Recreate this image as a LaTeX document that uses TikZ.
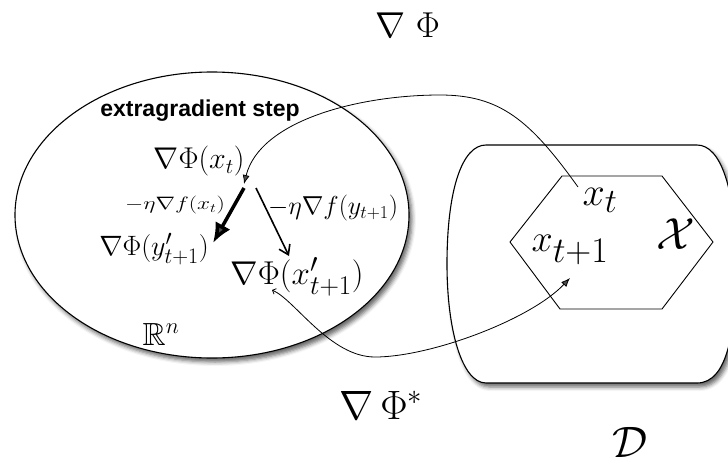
\RequirePackage{fix-cm}
\documentclass[tikz,border=0pt]{standalone}
\usepackage{amsmath,amssymb}
\usepackage{fontspec}
\newfontfamily\headfont{Liberation Sans}
\usetikzlibrary{arrows.meta,shadows.blur}
\newcommand\myfs[1]{\fontsize{#1}{#1}\selectfont}
\DeclareMathSizes{30}{30}{21}{15}
\DeclareMathSizes{33}{33}{27}{20}
\DeclareMathSizes{28}{28}{22}{16}
\DeclareMathSizes{40}{40}{34}{26}
\DeclareMathSizes{38}{38}{36}{28}
\begin{document}
\begin{tikzpicture}[x=1pt,y=-1pt,
  region/.style={draw=black, line width=1.1pt, fill=white,
    blur shadow={shadow xshift=3pt, shadow yshift=-4pt, shadow blur radius=4pt, shadow opacity=60}},
  hexa/.style={draw=black, line width=0.9pt},
  lbl/.style={inner sep=0pt, anchor=center},
  maparrow/.style={line width=0.8pt, -{Latex[length=9pt,width=7pt]}},
  thickstep/.style={line width=3.5pt, -{Latex[length=20pt,width=17pt]}},
  thinstep/.style={line width=1.6pt, -{Straight Barb[length=9pt,width=12pt]}},
]
\useasboundingbox (0,0) rectangle (728,461);

% dual space (ellipse)
\draw[region] (212,215) ellipse [x radius=197, y radius=143];

% domain D
\draw[region] (486,145) -- (697,145)
  .. controls (721,145) and (736,190) .. (736,264)
  .. controls (736,330) and (728,383) .. (697,383)
  -- (486,383)
  .. controls (462,383) and (447,330) .. (447,264)
  .. controls (447,190) and (462,145) .. (486,145) -- cycle;

% feasible set X (hexagon)
\draw[hexa] (562,176) -- (662,176) -- (713,242) -- (662,309) -- (560,309) -- (510,242) -- cycle;

% labels
\node[lbl, anchor=base, font=\myfs{36}] (phi) at (408,37) {$\nabla\mkern5mu\Phi$};
\node[lbl, anchor=base, font=\myfs{41}] (phistar) at (381,419) {$\nabla\mkern3mu\Phi^*$};
\node[lbl, font=\myfs{44}] (D) at (630,442) {$\mathcal{D}$};
\node[lbl, font=\myfs{32}] (Rn) at (161,334) {$\mathbb{R}^n$};
\node[lbl, font=\headfont\bfseries\myfs{23}] (eg) at (200,111) {extragradient step};
\node[lbl, font=\myfs{30}] (gxt) at (199,161) {$\nabla\Phi(x_t)$};
\node[lbl, font=\myfs{18}] (ex) at (175,205) {\scalebox{1.3}[1]{$-\eta\nabla f(x_t)$}};
\node[lbl, font=\myfs{26}] (ey) at (333,208) {$-\eta\nabla f(y_{t+1})$};
\node[lbl, font=\myfs{28}] (gy) at (154,249) {$\nabla\Phi(y'_{t+1})$};
\node[lbl, font=\myfs{33}] (gx) at (297,277) {$\nabla\Phi(x'_{t+1})$};
\node[lbl, font=\myfs{40}] (xt) at (600,200) {$x_t$};
\node[lbl, font=\myfs{38}] (xt1) at (570,250) {$x_{t+1}$};
\node[lbl, font=\myfs{45}] (X) at (676,234) {$\mathcal{X}$};

% connector end points
\coordinate (thS) at (244,188);
\coordinate (thE) at (213,243);
\coordinate (tnS) at (256,188);
\coordinate (tnE) at (289,256);
\coordinate (c1S) at (578,187);
\coordinate (c1M) at (440,95);
\coordinate (c1E) at (244,184);
\coordinate (c2S) at (272,290);
\coordinate (c2M) at (375,357);
\coordinate (c2E) at (570,278);

% extragradient steps
\draw[thickstep] (thS) -- (thE);
\draw[thinstep] (tnS) -- (tnE);

% mirror maps
\draw[maparrow] (c1S) .. controls (530,120) and (500,95) .. (c1M)
  .. controls (360,95) and (260,120) .. (c1E);
\draw[maparrow, {Straight Barb[length=3pt,width=6pt]}-{Latex[length=9pt,width=7pt]}]
  (c2S) .. controls (295,300) and (330,357) .. (c2M)
  .. controls (430,357) and (530,320) .. (c2E);
\end{tikzpicture}
\end{document}
